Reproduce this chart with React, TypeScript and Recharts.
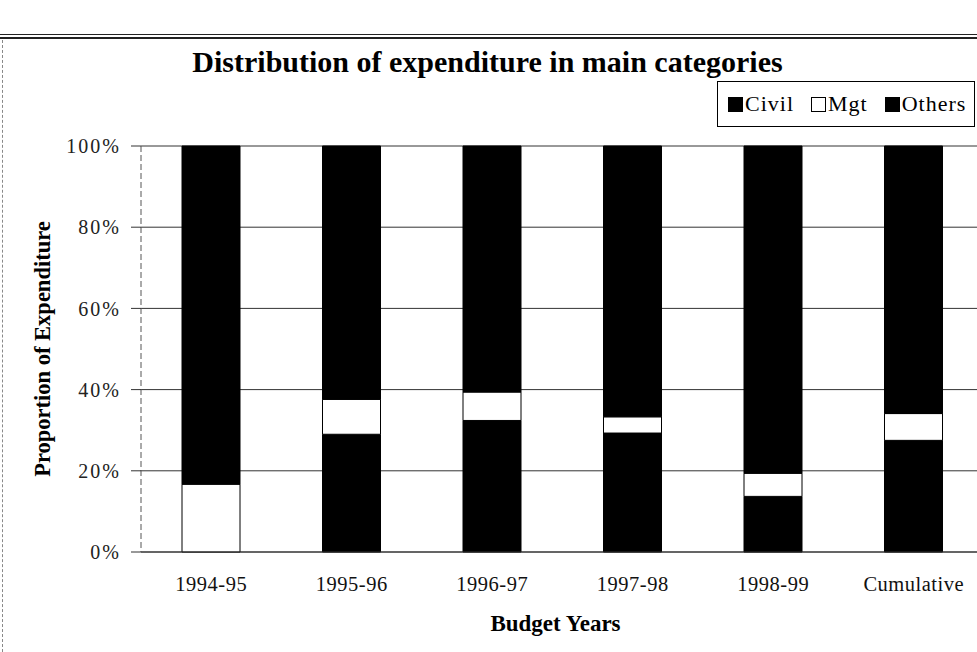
import { BarChart, Bar, XAxis, YAxis, CartesianGrid, Legend } from 'recharts'

const years = ['1994-95', '1995-96', '1996-97', '1997-98', '1998-99', 'Cumulative']
const civil = [0, 29.0, 32.4, 29.3, 13.7, 27.5]
const mgt = [16.7, 8.6, 7.0, 4.0, 5.7, 6.6]
const others = [83.3, 62.4, 60.6, 66.7, 80.6, 65.9]
const yTicks = [0, 20, 40, 60, 80, 100]

const seriesNames = ['Civil', 'Mgt', 'Others']
const seriesFill = ['#000', '#fff', '#000']

const data = years.map((year, i) => ({
  year,
  Civil: civil[i],
  Mgt: mgt[i],
  Others: others[i],
}))

const serif = '"Liberation Serif", "Times New Roman", serif'

function LegendBox() {
  return (
    <div style={{
      border: '1px solid #000',
      background: '#fff',
      display: 'flex',
      alignItems: 'center',
      boxSizing: 'border-box',
      width: 258,
      height: 46,
      padding: '0 10px',
      gap: 17,
      fontFamily: serif,
      fontSize: 22,
      letterSpacing: 1,
      color: '#000',
      lineHeight: 1,
    }}>
      {seriesNames.map((name, i) => (
        <span key={name} style={{ display: 'flex', alignItems: 'center', gap: 2 }}>
          <span style={{
            display: 'inline-block',
            boxSizing: 'border-box',
            width: 15,
            height: 15,
            background: seriesFill[i],
            border: '1.5px solid #000',
          }} />
          {name}
        </span>
      ))}
    </div>
  )
}

export default function App() {
  return (
    <div style={{ position: 'absolute', left: 0, top: 0, width: 977, height: 652, overflow: 'hidden', background: '#fff' }}>
      <div style={{ position: 'absolute', left: 0, top: 34, width: 977, height: 2, borderTop: '1px solid #222', borderBottom: '2px solid #222' }} />
      <div style={{ position: 'absolute', left: 2, top: 40, width: 0, height: 612, borderLeft: '1px dashed #888' }} />
      <div style={{
        position: 'absolute',
        top: 45,
        left: 0,
        width: 975,
        textAlign: 'center',
        fontFamily: serif,
        fontWeight: 'bold',
        fontSize: 30,
        color: '#000',
      }}>
        Distribution of expenditure in main categories
      </div>
      <BarChart
        width={1000}
        height={652}
        data={data}
        margin={{ top: 146, right: 16, bottom: 0, left: 0 }}
        barSize={58}
        style={{ position: 'absolute', left: 0, top: 0 }}
      >
        <CartesianGrid vertical={false} stroke="#333" />
        <XAxis
          dataKey="year"
          height={100}
          tickLine={false}
          axisLine={{ stroke: '#333' }}
          tickMargin={18}
          tick={{ fill: '#111', fontSize: 20.5, fontFamily: serif, letterSpacing: 0.5 }}
          label={{
            value: 'Budget Years',
            position: 'insideBottom',
            offset: 21,
            dx: -7,
            style: { fill: '#000', fontSize: 23, fontWeight: 'bold', fontFamily: serif },
          }}
        />
        <YAxis
          width={141}
          domain={[0, 100]}
          ticks={yTicks}
          tickFormatter={(v: number) => `${v}%`}
          axisLine={{ stroke: '#555', strokeDasharray: '6 3' }}
          tickLine={{ stroke: '#333' }}
          tickSize={10}
          tickMargin={10}
          tick={{ fill: '#222', fontSize: 20, fontFamily: serif, letterSpacing: 2 }}
          label={{
            value: 'Proportion of Expenditure',
            angle: -90,
            position: 'insideLeft',
            offset: 42,
            style: { textAnchor: 'middle', fill: '#000', fontSize: 22.5, fontWeight: 'bold', fontFamily: serif },
          }}
        />
        <Legend
          verticalAlign="middle"
          align="center"
          content={() => <LegendBox />}
          wrapperStyle={{ top: 81, left: 717, width: 'auto', height: 'auto' }}
        />
        {seriesNames.map((name, i) => (
          <Bar
            key={name}
            dataKey={name}
            stackId="a"
            fill={seriesFill[i]}
            stroke="#000"
            strokeWidth={1}
            isAnimationActive={false}
          />
        ))}
      </BarChart>
    </div>
  )
}
